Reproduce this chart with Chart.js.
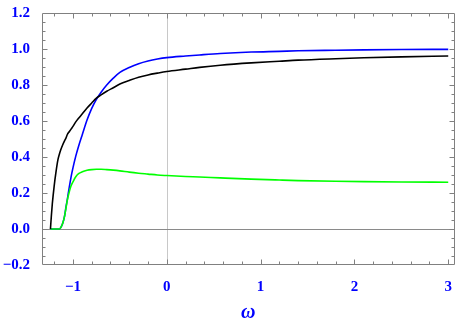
<!DOCTYPE html>
<html lang="en">
<head>
    <meta charset="UTF-8">
    <title>omega plot</title>
    <style>
        html, body { margin: 0; padding: 0; background: #fff; }
        #wrap { width: 457px; height: 326px; position: relative; }
    </style>
</head>
<body>
    <div id="wrap"><canvas id="plot"></canvas></div>

    <script src="https://cdn.jsdelivr.net/npm/chart.js@4/dist/chart.umd.min.js"></script>
    <script>
        // values
        const omega = [-1.24, -1.23, -1.22, -1.2, -1.18, -1.16, -1.145, -1.13, -1.11, -1.09, -1.075, -1.06,
                       -1.04, -1.02, -1.0, -0.97, -0.94, -0.9, -0.85, -0.8, -0.75, -0.7, -0.64, -0.57,
                       -0.5, -0.4, -0.3, -0.2, -0.1, 0, 0.2, 0.35, 0.57, 0.9, 1.2, 1.4, 1.8, 2.1, 2.5, 3.0];
        const blackCurve = [0, 0.075, 0.14, 0.24, 0.32, 0.385, 0.415, 0.44, 0.467, 0.49, 0.505, 0.525,
                            0.54, 0.555, 0.57, 0.595, 0.615, 0.64, 0.672, 0.70, 0.727, 0.745, 0.765, 0.785,
                            0.805, 0.825, 0.843, 0.856, 0.866, 0.875, 0.888, 0.898, 0.91, 0.923, 0.932, 0.938, 0.946, 0.951, 0.956, 0.961];
        const blueCurve = [0, 0, 0, 0, 0, 0, 0, 0.008, 0.03, 0.07, 0.12, 0.165,
                           0.23, 0.29, 0.34, 0.405, 0.46, 0.525, 0.605, 0.67, 0.72, 0.76, 0.80, 0.838,
                           0.87, 0.897, 0.918, 0.933, 0.944, 0.952, 0.961, 0.967, 0.975, 0.983, 0.987, 0.99, 0.993, 0.995, 0.997, 0.998];
        const greenCurve = [0, 0, 0, 0, 0, 0, 0, 0.008, 0.03, 0.07, 0.115, 0.16,
                            0.205, 0.24, 0.262, 0.29, 0.307, 0.318, 0.326, 0.33, 0.332, 0.332, 0.33, 0.327,
                            0.323, 0.316, 0.31, 0.305, 0.30, 0.297, 0.292, 0.289, 0.284, 0.277, 0.272, 0.269, 0.265, 0.263, 0.261, 0.26];
        const xTickValues = [-1, 0, 1, 2, 3];
        const yTickValues = [-0.2, 0, 0.2, 0.4, 0.6, 0.8, 1.0, 1.2];

        const serif = "'Liberation Serif', 'Times New Roman', serif";
        const tickFont = { family: serif, size: 15, weight: 'bold' };
        const frameColor = '#808080';

        function series(ys) {
            return omega.map((x, i) => ({ x: x, y: ys[i] }));
        }

        // frame with inward ticks on all four sides
        function drawFrame(chart) {
            const ctx = chart.ctx;
            const a = chart.chartArea;
            const xs = chart.scales.x, ys = chart.scales.y;
            const L = Math.round(a.left) + 0.5, R = Math.round(a.right) - 0.5;
            const T = Math.round(a.top) + 0.5, B = Math.round(a.bottom) - 0.5;
            ctx.save();
            ctx.lineWidth = 1;
            ctx.strokeStyle = frameColor;
            ctx.beginPath();
            ctx.rect(L, T, R - L, B - T);
            ctx.stroke();
            ctx.beginPath();
            for (let i = -6; i <= 15; i++) {
                const px = Math.round(xs.getPixelForValue(i / 5)) + 0.5;
                if (px < L + 1 || px > R - 1) continue;
                const len = (Math.abs(i) % 5 === 0) ? 5 : 3;
                ctx.moveTo(px, B);
                ctx.lineTo(px, B - len);
                ctx.moveTo(px, T);
                ctx.lineTo(px, T + len);
            }
            for (let i = -4; i <= 24; i++) {
                const py = Math.round(ys.getPixelForValue(i / 20)) + 0.5;
                if (py < T + 1 || py > B - 1) continue;
                const len = (Math.abs(i) % 4 === 0) ? 5 : 3;
                ctx.moveTo(L, py);
                ctx.lineTo(L + len, py);
                ctx.moveTo(R, py);
                ctx.lineTo(R - len, py);
            }
            ctx.stroke();
            ctx.restore();
        }

        // axes through the origin, under the curves
        const framePlugin = {
            id: 'frame',
            beforeDatasetsDraw(chart) {
                const ctx = chart.ctx;
                const a = chart.chartArea;
                const xs = chart.scales.x, ys = chart.scales.y;
                ctx.save();
                ctx.lineWidth = 1;
                const x0 = Math.round(xs.getPixelForValue(0)) + 0.5;
                ctx.strokeStyle = '#c8c8c8';
                ctx.beginPath();
                ctx.moveTo(x0, a.top);
                ctx.lineTo(x0, a.bottom);
                ctx.stroke();
                const y0 = Math.round(ys.getPixelForValue(0)) + 0.5;
                ctx.strokeStyle = '#8a8a8a';
                ctx.beginPath();
                ctx.moveTo(a.left, y0);
                ctx.lineTo(a.right, y0);
                ctx.stroke();
                ctx.restore();
            },
            afterDraw(chart) {
                drawFrame(chart);
            }
        };

        new Chart(document.getElementById('plot'), {
            type: 'scatter',
            data: {
                datasets: [
                    { data: series(blackCurve), borderColor: '#000000' },
                    { data: series(greenCurve), borderColor: '#00ff00' },
                    { data: series(blueCurve), borderColor: '#0000ff' }
                ]
            },
            options: {
                responsive: true,
                maintainAspectRatio: false,
                animation: false,
                layout: { padding: { top: 9, right: 1, left: 0, bottom: 0 } },
                datasets: {
                    scatter: {
                        showLine: true,
                        pointRadius: 0,
                        borderWidth: 1.6,
                        cubicInterpolationMode: 'monotone'
                    }
                },
                plugins: { legend: { display: false }, tooltip: { enabled: false } },
                scales: {
                    x: {
                        type: 'linear',
                        min: -1.33,
                        max: 3.067,
                        grid: { display: false },
                        border: { display: false },
                        afterBuildTicks: s => { s.ticks = xTickValues.map(v => ({ value: v })); },
                        afterFit: s => { s.height = 61; },
                        ticks: { color: '#0000ff', font: tickFont, padding: 5, maxRotation: 0, autoSkip: false,
                                 callback: v => (v < 0 ? '\u2212' : '') + Math.abs(v) },
                        title: {
                            display: true,
                            text: '\u03c9',
                            color: '#0000ff',
                            font: { family: serif, size: 20, style: 'italic', weight: 'bold' },
                            padding: { top: 0, bottom: 1 }
                        }
                    },
                    y: {
                        min: -0.2,
                        max: 1.2,
                        grid: { display: false },
                        border: { display: false },
                        afterBuildTicks: s => { s.ticks = yTickValues.map(v => ({ value: v })); },
                        afterFit: s => { s.width = 42; },
                        ticks: { color: '#0000ff', font: tickFont, padding: 4, autoSkip: false,
                                 callback: v => (v < 0 ? '\u2212' : '') + Math.abs(v).toFixed(1) }
                    }
                }
            },
            plugins: [framePlugin]
        });
    </script>
</body>
</html>
